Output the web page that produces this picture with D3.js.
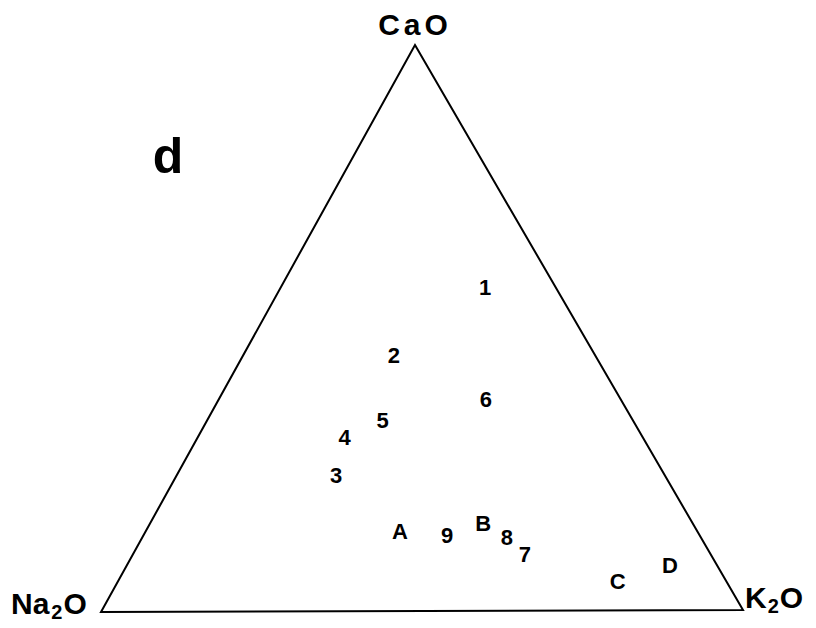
<!DOCTYPE html>
<html>
<head>
<meta charset="utf-8">
<script src="https://cdn.jsdelivr.net/npm/d3@7"></script>
<style>
  html, body { margin: 0; padding: 0; background: #fff; }
  svg { display: block; }
  text { font-family: "Liberation Sans", Arial, Helvetica, sans-serif; font-weight: bold; fill: #000; }
</style>
</head>
<body>
<svg id="chart" width="816" height="628"></svg>
<script>
// Sample compositions, normalised wt% CaO–Na2O–K2O
const sampleLabels = ["1", "2", "6", "5", "4", "3", "A", "9", "B", "8", "7", "C", "D"];
const caoPct  = [57.1, 45.2, 37.3, 33.7, 30.6, 24.0, 14.0, 13.3, 15.4, 12.9, 9.9, 5.3, 8.0];
const na2oPct = [11.0, 31.3, 21.0, 38.9, 46.4, 51.1, 46.3, 39.3, 32.6, 30.2, 28.9, 16.8, 7.3];
const k2oPct  = [31.9, 23.5, 41.7, 27.4, 23.0, 24.9, 39.7, 47.4, 52.0, 56.9, 61.2, 77.9, 84.7];

const panelLabel = "d";
const apexLabels = { top: "CaO", left: "Na", right: "K" };

const svg = d3.select("#chart");

// Triangle corners (pixel layout)
const apex = [415, 45], left = [101, 612], right = [743, 610];

// CaO fraction maps vertically from base to apex; K2O fraction along the base
const yScale = d3.scaleLinear().domain([0, 100]).range([ (left[1] + right[1]) / 2, apex[1] ]);
const baseScale = d3.scaleLinear().domain([0, 100]).range([0, right[0] - left[0]]);
const apexShift = d3.scaleLinear().domain([0, 100]).range([0, apex[0] - left[0]]);

function project(c, n, k) {
  const s = c + n + k;
  const cc = c / s * 100, kk = k / s * 100;
  return [left[0] + apexShift(cc) + baseScale(kk), yScale(cc)];
}

// Triangle outline
svg.append("path")
  .attr("d", d3.line()([apex, right, left]) + "Z")
  .attr("fill", "none")
  .attr("stroke", "#000")
  .attr("stroke-width", 2)
  .attr("stroke-linejoin", "miter");

// Sample labels, plotted at their compositions
const samples = sampleLabels.map((lab, i) => ({ lab, c: caoPct[i], n: na2oPct[i], k: k2oPct[i] }));
svg.selectAll("text.sample")
  .data(samples)
  .join("text")
  .attr("class", "sample")
  .attr("x", d => project(d.c, d.n, d.k)[0])
  .attr("y", d => project(d.c, d.n, d.k)[1])
  .attr("text-anchor", "middle")
  .attr("dominant-baseline", "central")
  .attr("font-size", 22)
  .text(d => d.lab);

// Corner labels
svg.append("text")
  .attr("x", 415).attr("y", 35)
  .attr("text-anchor", "middle")
  .attr("font-size", 30)
  .attr("letter-spacing", 4)
  .text(apexLabels.top);

const na = svg.append("text").attr("x", 11).attr("y", 614).attr("font-size", 30);
na.append("tspan").text(apexLabels.left);
na.append("tspan").attr("font-size", 20).attr("dy", 5).attr("dx", 2).text("2");
na.append("tspan").attr("dy", -5).attr("dx", 1).text("O");

const kk = svg.append("text").attr("x", 745).attr("y", 608).attr("font-size", 30);
kk.append("tspan").text(apexLabels.right);
kk.append("tspan").attr("font-size", 20).attr("dy", 5).attr("dx", 1).text("2");
kk.append("tspan").attr("dy", -5).attr("dx", 1).text("O");

// Panel letter
svg.append("text")
  .attr("x", 168).attr("y", 173)
  .attr("text-anchor", "middle")
  .attr("font-size", 50)
  .text(panelLabel);
</script>
</body>
</html>
